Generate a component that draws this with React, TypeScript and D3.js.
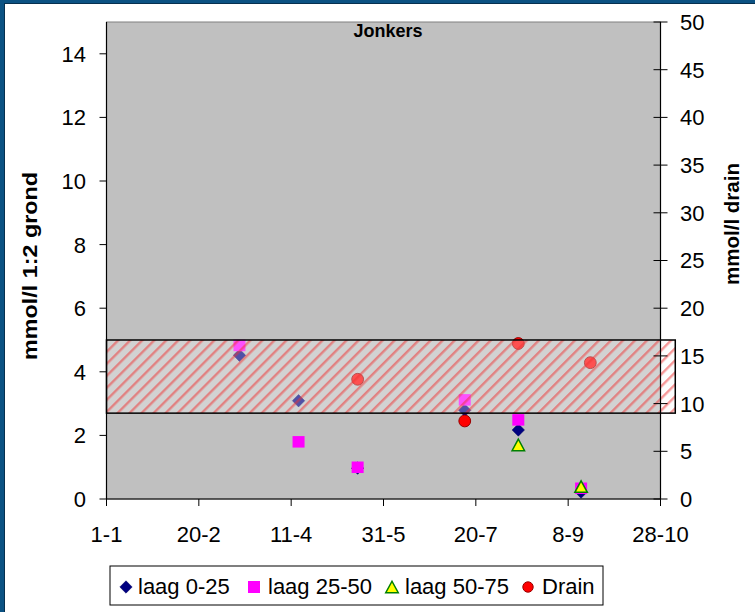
import React from 'react';
import * as d3 from 'd3';

// ---- data ----
const xTickDays = [0, 50, 100, 150, 200, 250, 300];
const xTickLabels = ['1-1', '20-2', '11-4', '31-5', '20-7', '8-9', '28-10'];
const leftTicks = [0, 2, 4, 6, 8, 10, 12, 14];
const rightTicks = [0, 5, 10, 15, 20, 25, 30, 35, 40, 45, 50];

const laag0Days = [72, 104, 136, 194, 223, 257];
const laag0Vals = [4.52, 3.09, 0.97, 2.79, 2.17, 0.22];
const laag25Days = [72, 104, 136, 194, 223, 257];
const laag25Vals = [4.82, 1.79, 0.99, 3.11, 2.48, 0.33];
const laag50Days = [223, 257];
const laag50Vals = [1.7, 0.39];
const drainDays = [136, 194, 223, 262];
const drainVals = [12.55, 8.18, 16.3, 14.29];

const bandDays = [0, 308];
const bandRange = [2.7, 5.0];

const legendLabels = ['laag 0-25', 'laag 25-50', 'laag 50-75', 'Drain'];

const FONT = "Arial, 'Liberation Sans', sans-serif";

export default function App() {
  const W = 755, H = 612;
  const x0 = 106.5, x1 = 660.5, yTop = 22, yBot = 499;
  const x = d3.scaleLinear().domain([0, 300]).range([x0, x1]);
  const yL = d3.scaleLinear().domain([0, 15]).range([yBot, yTop]);
  const yR = d3.scaleLinear().domain([0, 50]).range([yBot, yTop]);

  const diamondPath = (s: number) => `M0,${-s}L${s},0L0,${s}L${-s},0Z`;
  const triPath = (w: number, h: number) => `M0,${-h / 2}L${w / 2},${h / 2}L${-w / 2},${h / 2}Z`;

  const bx0 = x(bandDays[0]), bx1 = x(bandDays[1]);
  const by0 = yL(bandRange[1]), by1 = yL(bandRange[0]);

  const legendItems = [
    { cx: 126, tx: 138, label: legendLabels[0], kind: 'd' },
    { cx: 254, tx: 268, label: legendLabels[1], kind: 's' },
    { cx: 392, tx: 405, label: legendLabels[2], kind: 't' },
    { cx: 528, tx: 542, label: legendLabels[3], kind: 'c' },
  ];
  const ly = 587;

  const marker = (kind: string, cx: number, cy: number, key: any, legend = false) => {
    if (kind === 'd') {
      return <path key={key} d={diamondPath(6.2)} transform={`translate(${cx},${cy})`} fill="#000080" stroke="#000060" strokeWidth={0.5} />;
    }
    if (kind === 's') {
      return <rect key={key} x={cx - 6} y={cy - 6} width={12} height={legend ? 12 : 11.5} fill="#FF00FF" />;
    }
    if (kind === 't') {
      return <path key={key} d={triPath(12.5, 11.5)} transform={`translate(${cx},${cy})`} fill="#FFFF00" stroke="#008000" strokeWidth={1.5} />;
    }
    return <circle key={key} cx={cx} cy={cy} r={legend ? 5.2 : 5.9} fill="#FF0000" stroke="#990000" strokeWidth={1} />;
  };

  return (
    <svg width={W} height={H} style={{ position: 'absolute', left: 0, top: 0, background: '#fff' }} fontFamily={FONT}>
      <defs>
        <pattern id="hatch" patternUnits="userSpaceOnUse" width={8.5} height={8.5} patternTransform="rotate(45)">
          <rect x={0} y={0} width={8.5} height={8.5} fill="rgba(250,250,250,0.32)" />
          <rect x={0} y={0} width={2.4} height={8.5} fill="rgba(240,50,50,0.5)" />
        </pattern>
      </defs>

      {/* outer frame */}
      <rect x={0} y={0} width={W} height={H} fill="#ffffff" />
      <rect x={0} y={0} width={W} height={3} fill="#0b5283" />
      <rect x={0} y={0} width={5} height={H} fill="#0b5283" />
      <line x1={4.5} y1={3} x2={4.5} y2={H} stroke="#06304f" strokeWidth={1} />
      <line x1={5} y1={3.5} x2={W} y2={3.5} stroke="#06304f" strokeWidth={1} />

      {/* plot area */}
      <rect x={x0} y={yTop} width={x1 - x0} height={yBot - yTop} fill="#C0C0C0" stroke="#808080" strokeWidth={1} />

      {/* title */}
      <text x={388} y={37} textAnchor="middle" fontSize={18} fontWeight="bold" fill="#000">Jonkers</text>

      {/* series */}
      {laag0Days.map((d, i) => marker('d', x(d), yL(laag0Vals[i]), 'a' + i))}
      {laag25Days.map((d, i) => marker('s', x(d), yL(laag25Vals[i]), 'b' + i))}
      {laag50Days.map((d, i) => marker('t', x(d), yL(laag50Vals[i]), 'c' + i))}
      {drainDays.map((d, i) => marker('c', x(d), yR(drainVals[i]), 'e' + i))}

      {/* band */}
      <rect x={bx0} y={by0} width={bx1 - bx0} height={by1 - by0} fill="url(#hatch)" stroke="#000" strokeWidth={1.5} />

      {/* axes */}
      <line x1={x0} y1={yTop} x2={x0} y2={yBot} stroke="#000" strokeWidth={1.2} />
      <line x1={x1} y1={yTop} x2={x1} y2={yBot} stroke="#000" strokeWidth={1.2} />
      <line x1={x0} y1={yBot} x2={x1} y2={yBot} stroke="#000" strokeWidth={1.2} />

      {leftTicks.map(t => (
        <g key={'l' + t}>
          <line x1={x0 - 7} x2={x0} y1={yL(t)} y2={yL(t)} stroke="#000" strokeWidth={1} />
          <text x={86} y={yL(t)} dy="0.36em" textAnchor="end" fontSize={22} fill="#000">{t}</text>
        </g>
      ))}
      {rightTicks.map(t => (
        <g key={'r' + t}>
          <line x1={x1 - 7} x2={x1 + 7} y1={yR(t)} y2={yR(t)} stroke="#000" strokeWidth={1} />
          <text x={680} y={yR(t)} dy="0.36em" textAnchor="start" fontSize={22} fill="#000">{t}</text>
        </g>
      ))}
      {xTickDays.map((d, i) => (
        <g key={'x' + d}>
          <line x1={x(d)} x2={x(d)} y1={yBot} y2={yBot + 7} stroke="#000" strokeWidth={1} />
          <text x={x(d)} y={542} textAnchor="middle" fontSize={22} fill="#000">{xTickLabels[i]}</text>
        </g>
      ))}

      {/* axis titles */}
      <text transform={`translate(37,266) rotate(-90)`} textAnchor="middle" fontSize={20} fontWeight="bold" fill="#000"
        textLength={188} lengthAdjust="spacingAndGlyphs">mmol/l 1:2 grond</text>
      <text transform={`translate(739,224) rotate(-90)`} textAnchor="middle" fontSize={20} fontWeight="bold" fill="#000"
        textLength={122} lengthAdjust="spacingAndGlyphs">mmol/l drain</text>

      {/* legend */}
      <rect x={110} y={566} width={493} height={39} fill="#fff" stroke="#000" strokeWidth={1} />
      {legendItems.map((it, i) => (
        <g key={'lg' + i}>
          {marker(it.kind, it.cx, ly, 'lm' + i, true)}
          <text x={it.tx} y={594} fontSize={22} fill="#000">{it.label}</text>
        </g>
      ))}
    </svg>
  );
}
